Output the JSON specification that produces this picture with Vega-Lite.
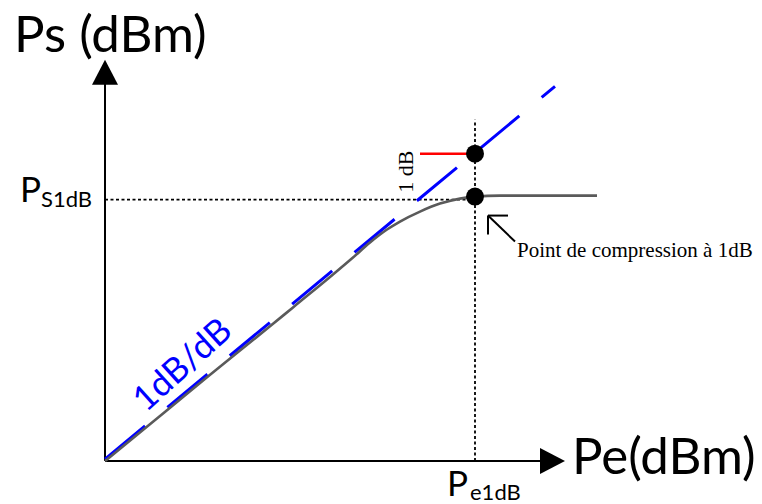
{
  "$schema": "https://vega.github.io/schema/vega-lite/v6.json",
  "width": 762,
  "height": 504,
  "padding": 0,
  "autosize": {"type": "fit", "contains": "padding"},
  "background": "white",
  "config": {"view": {"stroke": null}},
  "encoding": {
    "x": {"field": "x", "type": "quantitative", "scale": {"domain": [-105, 657], "nice": false, "zero": false}, "axis": null},
    "y": {"field": "y", "type": "quantitative", "scale": {"domain": [-42, 462], "nice": false, "zero": false}, "axis": null}
  },
  "layer": [
    {
      "data": {"values": [
        {"x": 0, "y": 262, "x2": 370, "y2": 262},
        {"x": 370, "y": 0, "x2": 370, "y2": 342}
      ]},
      "mark": {"type": "rule", "color": "black", "strokeWidth": 1.8, "strokeDash": [3, 2.5]},
      "encoding": {"x2": {"field": "x2"}, "y2": {"field": "y2"}}
    },
    {
      "data": {"values": [
        {"x": 0, "y": 0, "x2": 0, "y2": 382},
        {"x": 0, "y": 0, "x2": 442, "y2": 0}
      ]},
      "mark": {"type": "rule", "color": "black", "strokeWidth": 2},
      "encoding": {"x2": {"field": "x2"}, "y2": {"field": "y2"}}
    },
    {
      "data": {"values": [
        {"x": 0, "y": 389.5, "dir": "up"}
      ]},
      "mark": {"type": "point", "shape": "M0,-1L1.04,1L-1.04,1Z", "filled": true, "color": "black", "opacity": 1, "size": 625}
    },
    {
      "data": {"values": [
        {"x": 447.5, "y": 0, "dir": "right"}
      ]},
      "mark": {"type": "point", "shape": "M1,0L-1,-1.04L-1,1.04Z", "filled": true, "color": "black", "opacity": 1, "size": 625}
    },
    {
      "data": {"values": [
        {"x": 0, "y": 2, "x2": 450, "y2": 375.5}
      ]},
      "mark": {"type": "rule", "color": "#0000ff", "strokeWidth": 3, "strokeDash": [52, 29]},
      "encoding": {"x2": {"field": "x2"}, "y2": {"field": "y2"}}
    },
    {
      "data": {"values": [
        {"x": 0, "y": 0},
        {"x": 62, "y": 51},
        {"x": 102, "y": 84},
        {"x": 165, "y": 135},
        {"x": 188, "y": 154},
        {"x": 228, "y": 187},
        {"x": 248, "y": 204},
        {"x": 265, "y": 219},
        {"x": 282, "y": 232},
        {"x": 295, "y": 240},
        {"x": 315, "y": 250},
        {"x": 335, "y": 258},
        {"x": 355, "y": 263},
        {"x": 370, "y": 265},
        {"x": 395, "y": 266},
        {"x": 435, "y": 266},
        {"x": 492, "y": 266}
      ]},
      "mark": {"type": "line", "color": "#5a5a5a", "strokeWidth": 2.6, "interpolate": "monotone"}
    },
    {
      "data": {"values": [
        {"x": 315, "y": 308, "x2": 370, "y2": 308}
      ]},
      "mark": {"type": "rule", "color": "#ff0000", "strokeWidth": 2.5},
      "encoding": {"x2": {"field": "x2"}, "y2": {"field": "y2"}}
    },
    {
      "data": {"values": [
        {"x": 410, "y": 220, "x2": 383, "y2": 246},
        {"x": 403, "y": 246, "x2": 383, "y2": 246},
        {"x": 383, "y": 227, "x2": 383, "y2": 246}
      ]},
      "mark": {"type": "rule", "color": "black", "strokeWidth": 2},
      "encoding": {"x2": {"field": "x2"}, "y2": {"field": "y2"}}
    },
    {
      "data": {"values": [
        {"x": 370, "y": 308},
        {"x": 370, "y": 265}
      ]},
      "mark": {"type": "point", "shape": "circle", "filled": true, "color": "black", "opacity": 1, "size": 324}
    },
    {
      "data": {"values": [
        {"x": -91, "y": 410, "label": "Ps (dBm)"},
        {"x": 467, "y": -13, "label": "Pe(dBm)"}
      ]},
      "mark": {"type": "text", "font": "Lato", "fontSize": 51, "align": "left", "baseline": "alphabetic", "color": "black"},
      "encoding": {"text": {"field": "label"}}
    },
    {
      "data": {"values": [
        {"x": -85, "y": 260, "label": "P"},
        {"x": 342, "y": -35, "label": "P"}
      ]},
      "mark": {"type": "text", "font": "Lato", "fontSize": 35, "align": "left", "baseline": "alphabetic", "color": "black"},
      "encoding": {"text": {"field": "label"}}
    },
    {
      "data": {"values": [
        {"x": -64, "y": 255, "label": "S1dB"},
        {"x": 365, "y": -39, "label": "e1dB"}
      ]},
      "mark": {"type": "text", "font": "Lato", "fontSize": 22, "align": "left", "baseline": "alphabetic", "color": "black"},
      "encoding": {"text": {"field": "label"}}
    },
    {
      "data": {"values": [
        {"x": 301, "y": 290, "label": "1 dB"}
      ]},
      "mark": {"type": "text", "font": "Liberation Serif", "fontSize": 22, "align": "center", "baseline": "middle", "angle": -90, "color": "black"},
      "encoding": {"text": {"field": "label"}}
    },
    {
      "data": {"values": [
        {"x": 412, "y": 204, "label": "Point de compression à 1dB"}
      ]},
      "mark": {"type": "text", "font": "Liberation Serif", "fontSize": 21, "align": "left", "baseline": "alphabetic", "color": "black"},
      "encoding": {"text": {"field": "label"}}
    },
    {
      "data": {"values": [
        {"x": 85, "y": 88, "label": "1dB/dB"}
      ]},
      "mark": {"type": "text", "font": "Lato", "fontSize": 35, "align": "center", "baseline": "alphabetic", "angle": -42, "color": "#0000ff"},
      "encoding": {"text": {"field": "label"}}
    }
  ]
}
